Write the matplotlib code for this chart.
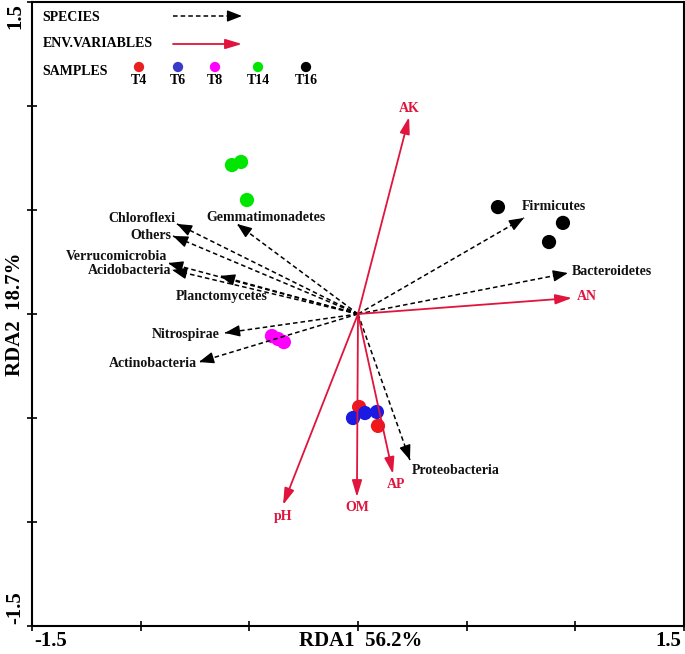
import matplotlib
matplotlib.use("Agg")
import matplotlib.pyplot as plt
import numpy as np

# === datos ===
species = ["Chloroflexi", "Others", "Verrucomicrobia", "Acidobacteria", "Planctomycetes",
           "Gemmatimonadetes", "Nitrospirae", "Actinobacteria", "Firmicutes",
           "Bacteroidetes", "Proteobacteria"]
sp_x = [-0.833, -0.851, -0.874, -0.856, -0.635, -0.557, -0.612, -0.732, 0.764, 0.966, 0.239]
sp_y = [0.433, 0.375, 0.245, 0.212, 0.183, 0.433, -0.091, -0.231, 0.462, 0.197, -0.702]

env = ["AK", "AN", "pH", "OM", "AP"]
env_x = [0.235, 0.985, -0.345, -0.005, 0.161]
env_y = [0.947, 0.077, -0.918, -0.880, -0.769]

samples = ["T4", "T6", "T8", "T14", "T16"]
samp_x = {
    "T4": [0.005, 0.092],
    "T6": [-0.023, 0.032, 0.087],
    "T8": [-0.396, -0.368, -0.341],
    "T14": [-0.580, -0.538, -0.511],
    "T16": [0.644, 0.943, 0.879],
}
samp_y = {
    "T4": [-0.447, -0.538],
    "T6": [-0.500, -0.476, -0.471],
    "T8": [-0.106, -0.120, -0.135],
    "T14": [0.716, 0.731, 0.548],
    "T16": [0.514, 0.438, 0.346],
}

# === estilos ===
RED = "#e0143c"
samp_col = {"T4": "#f01818", "T6": "#1a1ae0", "T8": "#ff00ff", "T14": "#00e600", "T16": "#000000"}
leg_col = {"T4": "#e82020", "T6": "#3a3ac8", "T8": "#ff00ff", "T14": "#00e600", "T16": "#000000"}

# posición de etiquetas (ha, dx, dy en píxeles)
sp_lab = {
    "Chloroflexi": ("right", -1, 5), "Others": ("right", -2, 0),
    "Verrucomicrobia": ("right", -1, 7), "Acidobacteria": ("right", -1, -1),
    "Planctomycetes": ("center", 2, -21), "Gemmatimonadetes": ("left", -31, 6),
    "Nitrospirae": ("right", -5, -2), "Actinobacteria": ("right", -2, -1),
    "Firmicutes": ("left", -2, 11), "Bacteroidetes": ("left", 4, 2),
    "Proteobacteria": ("left", 2, -10),
}
env_lab = {"AK": ("center", 0, 9), "AN": ("left", 5, 1), "pH": ("center", 0, -12),
           "OM": ("center", 0, -10), "AP": ("center", 3, -11)}

FONT = "Liberation Serif"
plt.rcParams["font.family"] = FONT
plt.rcParams["font.weight"] = "bold"

HEAD_SP = "-|>,head_length=0.9,head_width=0.35"
HEAD_ENV = "-|>,head_length=1.0,head_width=0.3"


def flecha_discontinua(ax, x, y, **kw):
    # línea discontinua + punta sólida
    ax.plot([0, x], [0, y], color="black", lw=1.1, linestyle=(0, (3, 2)), zorder=3, **kw)
    ax.annotate("", xy=(x, y), xytext=(x * 0.97, y * 0.97), **kw,
                arrowprops=dict(arrowstyle=HEAD_SP, color="black", lw=1.0,
                                shrinkA=0, shrinkB=0), zorder=3)


fig = plt.figure(figsize=(6.85, 6.54), dpi=100)
ax = fig.add_axes([32 / 685, 28 / 654, 652 / 685, 624 / 654])
ax.set_xlim(-1.5, 1.5)
ax.set_ylim(-1.5, 1.5)

# === muestras ===
for s in samples:
    ax.scatter(samp_x[s], samp_y[s], s=105, color=samp_col[s], edgecolors="none", zorder=2)

# === flechas especies ===
for name, x, y in zip(species, sp_x, sp_y):
    flecha_discontinua(ax, x, y)
    ha, dx, dy = sp_lab[name]
    ax.annotate(name, xy=(x, y), xytext=(dx, dy), textcoords="offset pixels",
                ha=ha, va="center", fontsize=10, fontweight="bold", color="#111111", zorder=4)

# === flechas variables ambientales ===
for name, x, y in zip(env, env_x, env_y):
    ax.annotate("", xy=(x, y), xytext=(0, 0),
                arrowprops=dict(arrowstyle=HEAD_ENV, color=RED,
                                lw=1.3, shrinkA=0, shrinkB=0), zorder=3)
    ha, dx, dy = env_lab[name]
    ax.annotate(name, xy=(x, y), xytext=(dx, dy), textcoords="offset pixels",
                ha=ha, va="center", fontsize=10, fontweight="bold", color=RED, zorder=4)

# === leyenda manual ===
def axf(px, py):
    return ((px - 32) / 652, (626 - py) / 624)

tr = ax.transAxes
ax.text(*axf(42, 18), "SPECIES", transform=tr, fontsize=10, va="center", ha="left")
ax.text(*axf(43, 44), "ENV.VARIABLES", transform=tr, fontsize=10, va="center", ha="left")
ax.text(*axf(42, 72), "SAMPLES", transform=tr, fontsize=10, va="center", ha="left")
ax.plot(*zip(axf(173, 16), axf(234, 16)), transform=tr, color="black", lw=1.1,
        linestyle=(0, (3, 2)))
ax.annotate("", xy=axf(242, 16), xytext=axf(234, 16), xycoords=tr, textcoords=tr,
            arrowprops=dict(arrowstyle=HEAD_SP, color="black", lw=1.0, shrinkA=0, shrinkB=0))
ax.annotate("", xy=axf(242, 44), xytext=axf(173, 44), xycoords=tr, textcoords=tr,
            arrowprops=dict(arrowstyle=HEAD_ENV, color=RED, lw=1.3, shrinkA=0, shrinkB=0))
leg_px = [139, 178, 215, 258, 306]
for s, px in zip(samples, leg_px):
    ax.scatter(*axf(px, 67), transform=tr, s=55, color=leg_col[s], edgecolors="none", clip_on=False)
    ax.text(*axf(px, 81), s, transform=tr, fontsize=10, ha="center", va="center")

# === ejes ===
ticks = np.arange(-1.5, 1.51, 0.5)
ax.set_xticks(ticks)
ax.set_yticks(ticks)
ax.set_xticklabels([])
ax.set_yticklabels([])
ax.tick_params(direction="inout", length=7, width=1.2, top=False, right=False)
for sp in ax.spines.values():
    sp.set_linewidth(1.5)

ax.annotate("-1.5", xy=(0, 0), xycoords="axes fraction", xytext=(2, -15), textcoords="offset pixels",
            ha="left", va="center", fontsize=15, fontweight="bold")
ax.annotate("1.5", xy=(1, 0), xycoords="axes fraction", xytext=(-3, -15), textcoords="offset pixels",
            ha="right", va="center", fontsize=15, fontweight="bold")
ax.annotate("RDA1  56.2%", xy=(0.5, 0), xycoords="axes fraction", xytext=(3, -15),
            textcoords="offset pixels", ha="center", va="center", fontsize=15, fontweight="bold")
ax.annotate("1.5", xy=(0, 1), xycoords="axes fraction", xytext=(-17, -1), textcoords="offset pixels",
            ha="center", va="top", rotation=90, fontsize=15, fontweight="bold")
ax.annotate("-1.5", xy=(0, 0), xycoords="axes fraction", xytext=(-17, 2), textcoords="offset pixels",
            ha="center", va="bottom", rotation=90, fontsize=15, fontweight="bold")
ax.annotate("RDA2  18.7%", xy=(0, 0.5), xycoords="axes fraction", xytext=(-17, 0),
            textcoords="offset pixels", ha="center", va="center", rotation=90, fontsize=15,
            fontweight="bold")

fig.savefig("out.png", dpi=100)
